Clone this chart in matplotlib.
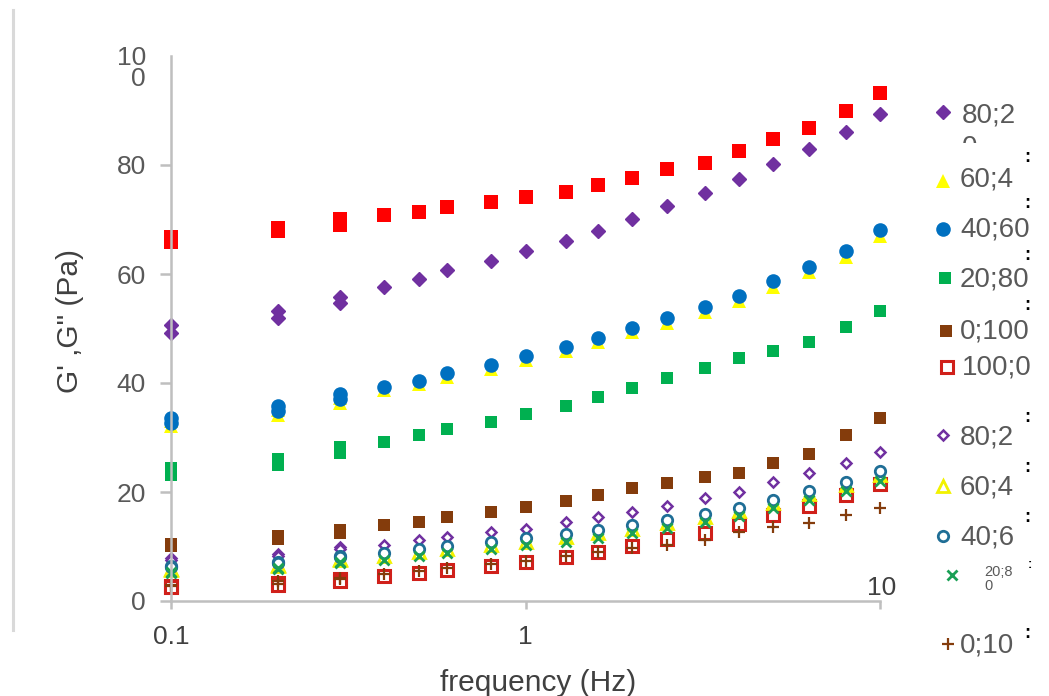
import numpy as np
import matplotlib
matplotlib.use("Agg")
import matplotlib.pyplot as plt
from matplotlib.patches import Rectangle

plt.rcParams['font.family'] = ['Liberation Sans', 'DejaVu Sans']

# frequentie (Hz) - de tre forste punktene er malt to ganger
freq = [0.1, 0.1, 0.2, 0.2, 0.3, 0.3, 0.4, 0.5, 0.6, 0.8, 1.0, 1.3, 1.6,
        2.0, 2.5, 3.2, 4.0, 5.0, 6.3, 8.0, 10]

# G' (fylte markorer)
g1_100 = [66.8, 65.9, 68.5, 67.8, 70.1, 68.9, 70.8, 71.4, 72.3, 73.2, 74.1,
          75.1, 76.3, 77.6, 79.3, 80.4, 82.6, 84.8, 86.8, 89.9, 93.2]
g1_80 = [50.6, 49.2, 53.2, 51.9, 55.8, 54.7, 57.6, 59.1, 60.7, 62.4, 64.2,
         66.0, 67.9, 70.1, 72.5, 74.9, 77.4, 80.2, 82.9, 86.1, 89.4]
g1_60 = [33.0, 32.1, 35.1, 34.2, 37.2, 36.4, 38.7, 39.8, 41.1, 42.6, 44.3,
         45.9, 47.5, 49.3, 51.1, 53.0, 55.1, 57.7, 60.3, 63.2, 66.9]
g1_40 = [33.5, 32.6, 35.7, 34.8, 37.9, 37.0, 39.3, 40.4, 41.8, 43.3, 45.0,
         46.6, 48.3, 50.1, 51.9, 53.9, 56.0, 58.7, 61.3, 64.2, 68.1]
g1_20 = [24.4, 23.1, 26.0, 24.9, 28.2, 27.1, 29.2, 30.5, 31.6, 32.9, 34.3,
         35.8, 37.4, 39.1, 40.9, 42.7, 44.6, 45.8, 47.6, 50.3, 53.2]
g1_0 = [10.5, 10.1, 12.0, 11.3, 13.1, 12.4, 13.9, 14.5, 15.4, 16.3, 17.2,
        18.3, 19.4, 20.7, 21.7, 22.8, 23.5, 25.3, 27.0, 30.5, 33.5]

# G'' (apne markorer)
g2_100 = [2.7, 2.5, 3.3, 2.9, 4.0, 3.7, 4.6, 5.1, 5.7, 6.4, 7.1,
          8.1, 9.0, 10.1, 11.3, 12.5, 14.1, 15.8, 17.4, 19.4, 21.5]
g2_80 = [7.9, 7.6, 8.6, 8.3, 9.9, 9.6, 10.3, 11.2, 11.8, 12.7, 13.3,
         14.5, 15.4, 16.3, 17.4, 18.9, 20.0, 21.8, 23.5, 25.3, 27.3]
g2_60 = [5.9, 5.7, 6.6, 6.4, 7.7, 7.5, 8.3, 9.0, 9.5, 10.3, 10.9,
         11.7, 12.4, 13.3, 14.3, 15.4, 16.5, 18.0, 19.6, 21.2, 23.1]
g2_40 = [6.4, 6.2, 7.1, 6.9, 8.3, 8.0, 8.8, 9.6, 10.1, 10.9, 11.5,
         12.3, 13.0, 13.9, 14.9, 16.0, 17.1, 18.6, 20.2, 21.8, 23.8]
g2_20 = [5.3, 5.1, 6.0, 5.8, 7.1, 6.9, 7.6, 8.3, 8.8, 9.6, 10.2,
         10.9, 11.6, 12.5, 13.4, 14.5, 15.6, 17.0, 18.5, 20.1, 22.0]
g2_0 = [3.0, 2.8, 3.6, 3.2, 4.3, 4.0, 5.0, 5.5, 6.0, 6.7, 7.3,
        8.2, 9.0, 9.7, 10.3, 11.2, 12.7, 13.6, 14.3, 15.8, 17.0]

y_ticks = [0, 20, 40, 60, 80]
x_ticks = [0.1, 1, 10]
x_labels = ['0.1', '1', '']

# stiler: (data, marker, storrelse, fyll, kant, kantbredde)
styles = [
    (g1_100, 's', 10, '#FF0000', '#FF0000', 0),
    (g1_80, 'D', 7, '#7030A0', '#7030A0', 1),
    (g1_60, '^', 10, '#FFFF00', '#FFFF00', 0),
    (g1_40, 'o', 10.5, '#0070C0', '#0070C0', 0),
    (g1_20, 's', 9, '#00B050', '#00B050', 0),
    (g1_0, 's', 8.5, '#843C0C', '#843C0C', 0),
    (g2_100, 's', 8.5, 'white', '#D0201A', 2.2),
    (g2_80, 'D', 5.5, 'white', '#7030A0', 1.8),
    (g2_60, '^', 8, 'white', '#F2F200', 2),
    (g2_40, 'o', 7.5, 'white', '#1F6E96', 2),
    (g2_20, 'x', 7, 'none', '#1AA055', 2),
    (g2_0, '+', 9, 'none', '#843C0C', 1.6),
]

fig = plt.figure(figsize=(10.49, 6.96), dpi=100)
ax = fig.add_axes([171 / 1049, 95 / 696, 709 / 1049, 545 / 696])

for data, mk, ms, fc, ec, mew in styles:
    ax.plot(freq, data, linestyle='none', marker=mk, markersize=ms,
            markerfacecolor=fc, markeredgecolor=ec, markeredgewidth=mew,
            clip_on=False)

ax.set_xscale('log')
ax.set_xlim(0.1, 10)
ax.set_ylim(0, 100)
ax.set_xticks(x_ticks)
ax.set_xticklabels(x_labels)
ax.xaxis.set_minor_locator(matplotlib.ticker.NullLocator())
ax.set_yticks(y_ticks)
ax.set_yticklabels([str(v) for v in y_ticks])

for s in ['top', 'right']:
    ax.spines[s].set_visible(False)
for s in ['left', 'bottom']:
    ax.spines[s].set_color('#BFBFBF')
    ax.spines[s].set_linewidth(1.8)

ax.tick_params(axis='y', colors='#BFBFBF', labelcolor='#595959', length=8,
               width=1.8, labelsize=19, pad=10)
ax.tick_params(axis='x', colors='#BFBFBF', labelcolor='#404040', length=6,
               width=1.8, labelsize=19, pad=11)

# "100" og "10" som i originalen
ax.annotate('10\n0', xy=(0, 100), xycoords=('axes fraction', 'data'),
            xytext=(-18, 7), textcoords='offset points', ha='right', va='top',
            fontsize=19, color='#595959', linespacing=0.85)
ax.annotate('10', xy=(10, 0), xytext=(1, 1), textcoords='offset points',
            ha='center', va='bottom', fontsize=19, color='#404040')

fig.text(538 / 1049, 1 - 683 / 696, 'frequency (Hz)', ha='center', va='center',
         fontsize=21.5, color='#404040')
fig.text(70 / 1049, 1 - 321 / 696, 'G\' ,G" (Pa)', ha='center', va='center',
         rotation=90, fontsize=21.5, color='#404040')

# venstre ramme-linje
fig.add_artist(plt.Line2D([13 / 1049, 13 / 1049], [1 - 630 / 696, 1 - 10 / 696],
                          color='#D9D9D9', linewidth=2.2))

# legenden (handlaget, teksten er brutt som i originalen)
lg = fig.add_axes([0, 0, 1, 1], facecolor='none')
lg.set_xlim(0, 1049)
lg.set_ylim(696, 0)
lg.axis('off')

leg_markers = [(943, 112), (943, 181), (943, 229), (945, 278), (946, 331), (947, 367),
               (943, 435), (943, 486), (943, 536), (952, 575), (948, 644)]
leg_texts = ['80;2', '60;4', '40;60', '20;80', '0;100', '100;0',
             '80;2', '60;4', '40;6', '20;8\n0', '0;10']
leg_text_pos = [(962, 115), (960, 180), (960, 230), (960, 280), (960, 332), (962, 367),
                (960, 437), (960, 487), (960, 537), (984, 579), (960, 645)]
leg_style = [styles[1], styles[2], styles[3], styles[4], styles[5], styles[6],
             styles[7], styles[8], styles[9], styles[10], styles[11]]

for (mx, my), st in zip(leg_markers, leg_style):
    _, mk, ms, fc, ec, mew = st
    lg.plot([mx], [my], linestyle='none', marker=mk, markersize=ms,
            markerfacecolor=fc, markeredgecolor=ec, markeredgewidth=mew)
for (tx, ty), t in zip(leg_text_pos, leg_texts):
    small = '\n' in t
    lg.text(tx, ty, t, ha='left', va='center', fontsize=10.5 if small else 20,
            color='#595959', linespacing=1.0)

# avkuttet "0" under forste etikett
clip = Rectangle((950, 90), 90, 53, transform=lg.transData, fill=False)
t0 = lg.text(962, 148, '0', ha='left', va='center', fontsize=20, color='#595959')
t0.set_clip_on(True)
t0.set_clip_path(clip)

colon_pos = [(1027, 158), (1027, 203), (1027, 256), (1027, 305),
             (1027, 418), (1027, 467), (1027, 518), (1030, 565), (1027, 634)]
for cx, cy in colon_pos:
    lg.text(cx, cy, ':', ha='center', va='center', fontsize=13 if cy != 565 else 9,
            color='black', fontweight='bold')

fig.savefig('out.png', dpi=100)
